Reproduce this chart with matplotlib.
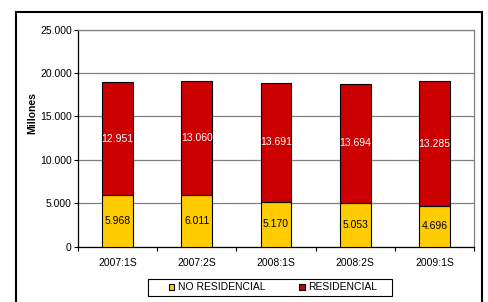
import matplotlib
matplotlib.use('Agg')
import matplotlib.pyplot as plt
from matplotlib.patches import Rectangle
import numpy as np

periodos = ['2007:1S', '2007:2S', '2008:1S', '2008:2S', '2009:1S']
no_residencial = [5968, 6011, 5170, 5053, 4696]
residencial = [12951, 13060, 13691, 13694, 14360]
etiquetas_no_res = ['5.968', '6.011', '5.170', '5.053', '4.696']
etiquetas_res = ['12.951', '13.060', '13.691', '13.694', '13.285']

plt.rcParams['font.family'] = ['Liberation Sans', 'DejaVu Sans']
plt.rcParams['font.size'] = 7.5

fig = plt.figure(figsize=(4.89, 3.02), dpi=100)
ax = fig.add_axes([78/489, 55.3/302, 396/489, 217/302])

x = np.arange(len(periodos))
ancho = 0.39
ax.bar(x, no_residencial, ancho, color='#FFCC00', edgecolor='black',
       linewidth=0.8, label='NO RESIDENCIAL', zorder=3)
ax.bar(x, residencial, ancho, bottom=no_residencial, color='#CC0000',
       edgecolor='black', linewidth=0.8, label='RESIDENCIAL', zorder=3)

for i in range(len(periodos)):
    ax.text(x[i], no_residencial[i] / 2, etiquetas_no_res[i],
            ha='center', va='center', color='black', zorder=4)
    ax.text(x[i], no_residencial[i] + residencial[i] / 2, etiquetas_res[i],
            ha='center', va='center', color='white', zorder=4)

ax.set_xlim(-0.5, len(periodos) - 0.5)
ax.set_ylim(0, 25000)
ax.set_yticks(range(0, 25001, 5000))
ax.set_yticklabels([f'{v:,}'.replace(',', '.') for v in range(0, 25001, 5000)])
ax.yaxis.grid(True, color='#808080', linewidth=0.9, zorder=0)
ax.set_xticks(x)
ax.set_xticklabels(periodos)
ax.set_xticks(np.arange(-0.5, len(periodos)), minor=True)
ax.tick_params(axis='x', which='major', length=0, pad=8)
ax.tick_params(axis='x', which='minor', length=3, width=0.8, direction='out')
ax.tick_params(axis='y', length=3, width=0.8, direction='out', pad=1.5)

for s in ['left', 'bottom']:
    ax.spines[s].set_color('black')
    ax.spines[s].set_linewidth(0.9)
for s in ['top', 'right']:
    ax.spines[s].set_color('#808080')
    ax.spines[s].set_linewidth(0.9)

fig.text(32/489, 1 - 113/302, 'Millones', rotation=90, ha='center', va='center',
         fontweight='bold')

fig.legend(loc='center', bbox_to_anchor=(273/489, 1 - 287.5/302), ncol=2,
           frameon=False, handlelength=0.55, handleheight=0.55,
           handletextpad=0.3, columnspacing=3.3, borderpad=0.2)
fig.add_artist(Rectangle((148/489, 1 - 296/302), 244/489, 17/302,
                         transform=fig.transFigure, fill=False,
                         edgecolor='black', linewidth=0.8))

fig.add_artist(Rectangle((16/489, -0.05), 466/489, 1.05 - 12/302, transform=fig.transFigure,
                         fill=False, edgecolor='black', linewidth=1.5))

fig.savefig('out.png', dpi=100)
